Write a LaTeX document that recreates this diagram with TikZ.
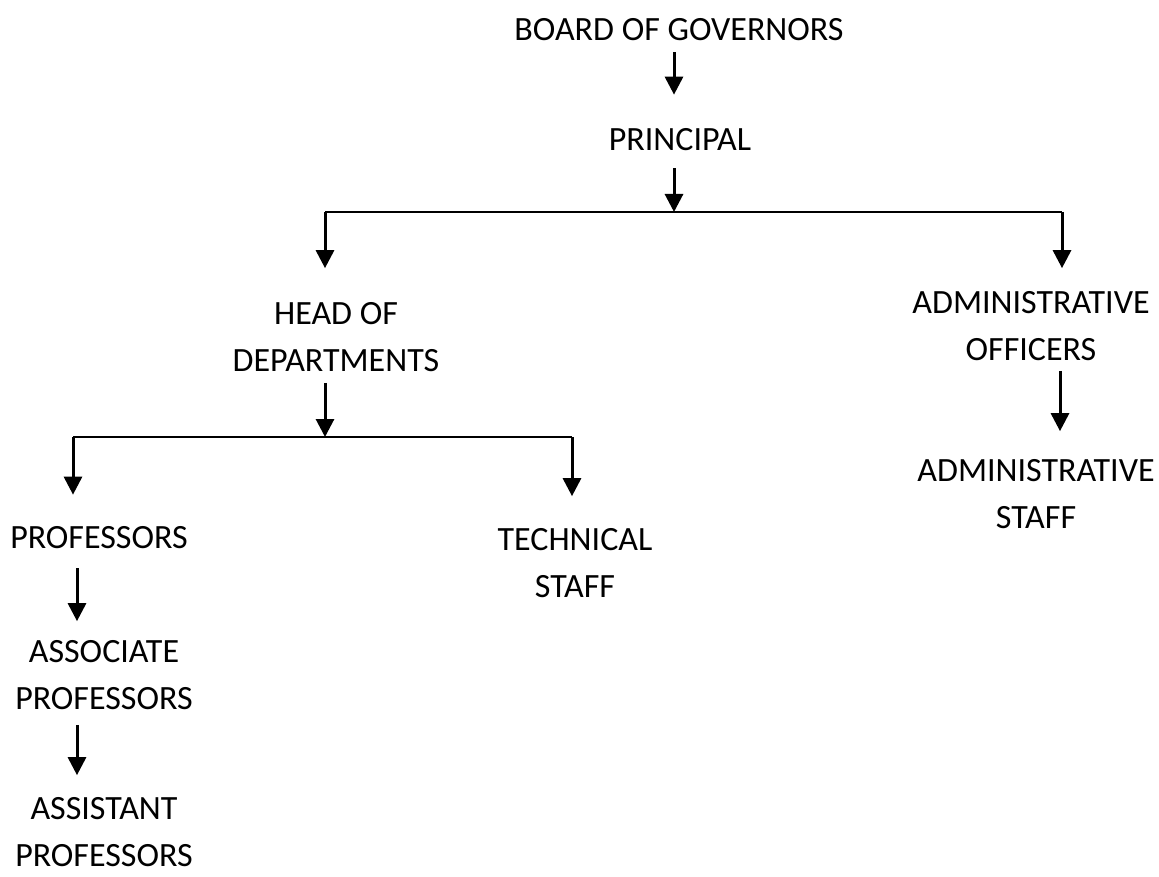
\documentclass[tikz,border=0pt]{standalone}
\usepackage{fontspec}
\setmainfont{Carlito}
\usepackage{tikz}
\usetikzlibrary{positioning,calc}
\usetikzlibrary{arrows.meta}
\tikzstyle{role} = [inner sep=0pt, align=center, font=\fontsize{34}{47}\selectfont]
\tikzstyle{arrow} = [line width=3pt,-{Triangle[length=18pt,width=18pt]}]
\tikzstyle{line} = [line width=2.4pt]

\begin{document}
\begin{tikzpicture}[x=1pt,y=-1pt]
				\useasboundingbox (0,0) rectangle (1159,877);
				\node (bog) at (679,30) [role] {BOARD OF GOVERNORS};
				\node (principal) at (680,140) [role] {PRINCIPAL};
				\node (hod) at (336,337) [role] {HEAD OF\\DEPARTMENTS};
				\node (adminoff) at (1031,326) [role] {ADMINISTRATIVE\\OFFICERS};
				\node (adminstaff) at (1036,494) [role] {ADMINISTRATIVE\\STAFF};
				\node (prof) at (99,538) [role] {PROFESSORS};
				\node (tech) at (575,563) [role] {TECHNICAL\\STAFF};
				\node (assoc) at (104,675) [role] {ASSOCIATE\\PROFESSORS};
				\node (asst) at (104,832) [role] {ASSISTANT\\PROFESSORS};
				\coordinate (j1) at (674,212);
				\coordinate (l1) at (325,212);
				\coordinate (r1) at (1062,212);
				\coordinate (j2) at (325,437);
				\coordinate (l2) at (73,437);
				\coordinate (r2) at (572,437);
				\coordinate (pcol) at (77,0);
				\coordinate (acol) at (1060,0);
				\draw[arrow, shorten <=11pt, shorten >=34pt] (bog.south -| j1) -- (principal.north -| j1);
				\draw[arrow, shorten <=17pt] (principal.south -| j1) -- (j1);
				\draw[line] (l1) -- (r1);
				\draw[arrow, shorten >=34pt] (l1) -- (l1 |- hod.north);
				\draw[arrow, shorten >=23pt] (r1) -- (r1 |- adminoff.north);
				\draw[arrow, shorten <=10pt, shorten >=28pt] (adminoff.south -| acol) -- (adminstaff.north -| acol);
				\draw[arrow, shorten <=11pt] (hod.south -| j2) -- (j2);
				\draw[line] (l2) -- (r2);
				\draw[arrow, shorten >=32pt] (l2) -- (l2 |- prof.north);
				\draw[arrow, shorten >=32pt] (r2) -- (r2 |- tech.north);
				\draw[arrow, shorten <=19pt, shorten >=19pt] (prof.south -| pcol) -- (assoc.north -| pcol);
				\draw[arrow, shorten <=15pt, shorten >=22pt] (assoc.south -| pcol) -- (asst.north -| pcol);
\end{tikzpicture}
\end{document}
